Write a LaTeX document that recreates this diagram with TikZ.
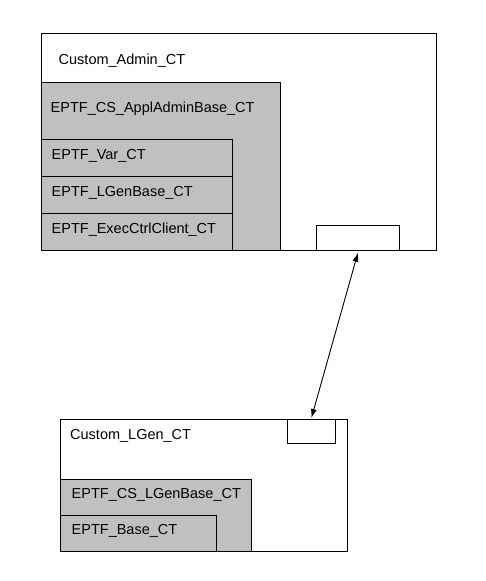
\documentclass[tikz,border=0pt]{standalone}
\usepackage{fontspec}
\setmainfont{Liberation Sans}
\usetikzlibrary{arrows.meta}
\definecolor{ctgray}{RGB}{192,192,192}
\begin{document}
\begin{tikzpicture}[x=1pt, y=-1pt]
  \tikzset{
    ct_box/.style={draw=black, line width=0.8pt, fill=white, inner sep=0pt, anchor=north west},
    ct_base/.style={ct_box, fill=ctgray},
    ct_text/.style={anchor=base west, inner sep=0pt, font=\fontsize{14.5}{17}\selectfont},
  }
  \useasboundingbox (0,0) rectangle (485,581);

  % admin component
  \node[ct_box, minimum width=395, minimum height=217] (admin) at (41,33) {};
  \node[ct_base, minimum width=239, minimum height=168] (applbase) at (41,82) {};
  \node[ct_base, minimum width=191, minimum height=37] (var) at (41,139) {};
  \node[ct_base, minimum width=191, minimum height=37] (lgenbase) at (41,176) {};
  \node[ct_base, minimum width=191, minimum height=37] (execctrl) at (41,213) {};
  \node[ct_box, minimum width=83, minimum height=25] (aport) at (316,225) {};

  \node[ct_text] (admin_t) at (58.5,64.5) {Custom\_Admin\_CT};
  \node[ct_text] (applbase_t) at (50.5,112) {EPTF\_CS\_ApplAdminBase\_CT};
  \node[ct_text] (var_t) at (51.5,159) {EPTF\_Var\_CT};
  \node[ct_text] (lgenbase_t) at (51.5,196.5) {EPTF\_LGenBase\_CT};
  \node[ct_text] (execctrl_t) at (51.5,233) {EPTF\_ExecCtrlClient\_CT};

  % lgen component
  \node[ct_box, minimum width=287, minimum height=132] (lgen) at (60,419) {};
  \node[ct_base, minimum width=191, minimum height=72] (cslgen) at (60,479) {};
  \node[ct_base, minimum width=156, minimum height=36] (base) at (60,515) {};
  \node[ct_box, minimum width=48, minimum height=24] (lport) at (287,419) {};

  \node[ct_text] (lgen_t) at (70,439) {Custom\_LGen\_CT};
  \node[ct_text] (cslgen_t) at (71.5,498.5) {EPTF\_CS\_LGenBase\_CT};
  \node[ct_text] (base_t) at (71.5,534) {EPTF\_Base\_CT};

  % connection
  \draw[{Latex[length=9pt,width=6pt]}-{Latex[length=9pt,width=6pt]}, line width=0.9pt]
    ([yshift=-2]aport.south) -- ([yshift=1]lport.north);
\end{tikzpicture}
\end{document}
